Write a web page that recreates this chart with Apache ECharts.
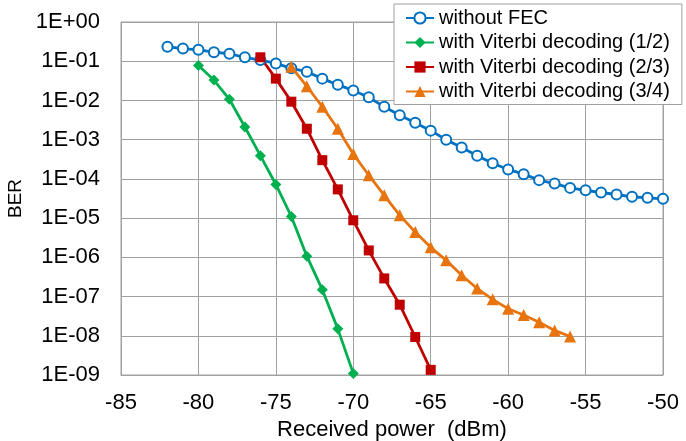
<!DOCTYPE html>
<html>
<head>
<meta charset="utf-8">
<script src="https://cdn.jsdelivr.net/npm/echarts@6/dist/echarts.min.js"></script>
<style>
  html, body { margin: 0; padding: 0; background: #fff; }
  #main { width: 686px; height: 441px; }
</style>
</head>
<body>
<div id="main"></div>
<script>
// 数据
var powerNoFec = [-82,-81,-80,-79,-78,-77,-76,-75,-74,-73,-72,-71,-70,-69,-68,-67,-66,-65,-64,-63,-62,-61,-60,-59,-58,-57,-56,-55,-54,-53,-52,-51,-50];
var berNoFec = [0.234,0.21,0.195,0.17,0.155,0.126,0.107,0.088,0.066,0.054,0.036,0.025,0.018,0.012,0.0069,0.0042,0.0027,0.0017,0.001,0.00063,0.00039,0.00025,0.000174,0.000132,9.3e-5,7.6e-5,5.9e-5,5.1e-5,4.5e-5,4.0e-5,3.5e-5,3.3e-5,3.1e-5];

var power12 = [-80,-79,-78,-77,-76,-75,-74,-73,-72,-71,-70];
var ber12 = [0.078,0.033,0.0107,0.0021,3.9e-4,7.2e-5,1.1e-5,1.07e-6,1.5e-7,1.5e-8,1.1e-9];

var power23 = [-76,-75,-74,-73,-72,-71,-70,-69,-68,-67,-66,-65];
var ber23 = [0.126,0.036,0.0093,0.0019,3.0e-4,5.4e-5,8.8e-6,1.5e-6,2.9e-7,6.2e-8,9.3e-9,1.35e-9];

var power34 = [-74,-73,-72,-71,-70,-69,-68,-67,-66,-65,-64,-63,-62,-61,-60,-59,-58,-57,-56];
var ber34 = [0.072,0.023,0.0069,0.0019,4.3e-4,1.24e-4,3.8e-5,1.18e-5,4.4e-6,1.8e-6,8.4e-7,3.5e-7,1.6e-7,8.5e-8,4.9e-8,3.4e-8,2.2e-8,1.37e-8,9.6e-9];

var seriesNames = ['without FEC','with Viterbi decoding (1/2)','with Viterbi decoding (2/3)','with Viterbi decoding (3/4)'];

function pairs(xs, ys){
    var arr = [];
    for (var i = 0; i < xs.length; i++) {
        arr.push([xs[i], ys[i]]);
    }
    return arr;
}

// 1E-09 格式
function sciLabel(v){
    var e = Math.round(Math.log(v) / Math.LN10);
    var s = e < 0 ? '-' : '+';
    var a = Math.abs(e);
    return '1E' + s + (a < 10 ? '0' + a : a);
}

var chart = echarts.init(document.getElementById('main'));
var font = 'Liberation Sans, Arial, sans-serif';

var option = {
    animation: false,
    textStyle: { fontFamily: font },
    grid: {
        left: 121, right: 23, top: 22, bottom: 66,
        outerBoundsMode: 'none',
        containLabel: false,
        show: true, borderColor: '#a0a0a0', borderWidth: 1
    },
    legend: {
        orient: 'vertical',
        left: 394, top: 4,
        padding: [4, 12, 3, 11],
        itemGap: 4.5,
        itemWidth: 28, itemHeight: 14,
        backgroundColor: '#fff',
        borderColor: '#a0a0a0', borderWidth: 1,
        textStyle: { fontSize: 20, color: '#000', fontFamily: font },
        data: seriesNames
    },
    xAxis: {
        type: 'value',
        min: -85, max: -50, interval: 5,
        name: 'Received power  (dBm)',
        nameLocation: 'middle',
        nameGap: 41,
        nameTextStyle: { fontSize: 22, color: '#000', fontFamily: font },
        axisLine: { lineStyle: { color: '#a0a0a0' } },
        axisTick: { show: false },
        axisLabel: { fontSize: 22, color: '#000', margin: 17, fontFamily: font },
        splitLine: { lineStyle: { color: '#a0a0a0', width: 1 } }
    },
    yAxis: {
        type: 'log',
        logBase: 10,
        min: 1e-9, max: 1,
        name: 'BER',
        nameLocation: 'middle',
        nameGap: 90,
        nameTextStyle: { fontSize: 19, color: '#000', fontFamily: font },
        axisLine: { show: true, lineStyle: { color: '#a0a0a0' } },
        axisTick: { show: false },
        minorTick: { show: false },
        axisLabel: { fontSize: 22, color: '#000', margin: 21, fontFamily: font, formatter: sciLabel },
        splitLine: { lineStyle: { color: '#a0a0a0', width: 1 } }
    },
    series: [
        {
            name: seriesNames[0], type: 'line',
            data: pairs(powerNoFec, berNoFec),
            color: '#0070C0',
            symbol: 'emptyCircle', symbolSize: 10,
            itemStyle: { borderWidth: 2 },
            lineStyle: { width: 2.8 }
        },
        {
            name: seriesNames[1], type: 'line',
            data: pairs(power12, ber12),
            color: '#00B050',
            symbol: 'diamond', symbolSize: 11,
            lineStyle: { width: 2.8 }
        },
        {
            name: seriesNames[2], type: 'line',
            data: pairs(power23, ber23),
            color: '#C00000',
            symbol: 'rect', symbolSize: 10,
            lineStyle: { width: 2.8 }
        },
        {
            name: seriesNames[3], type: 'line',
            data: pairs(power34, ber34),
            color: '#E8740F',
            symbol: 'triangle', symbolSize: 12,
            lineStyle: { width: 2.8 }
        }
    ]
};

chart.setOption(option);
</script>
</body>
</html>
